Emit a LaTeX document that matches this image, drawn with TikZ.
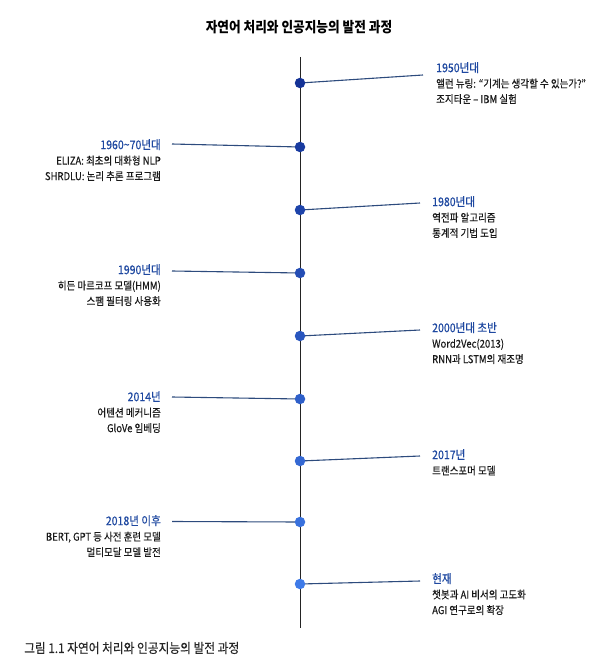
\documentclass[tikz,border=0pt]{standalone}
\usepackage{fontspec}
\setmainfont{Noto Sans CJK KR}[FakeStretch=0.88]
\newfontfamily\medfont{Noto Sans CJK KR}[FakeStretch=0.88,FakeBold=0.35]
\definecolor{yearblue}{RGB}{30,72,160}
\definecolor{connc}{RGB}{45,75,125}
\definecolor{dotA}{RGB}{20,50,150}
\definecolor{dotB}{RGB}{62,122,232}
\definecolor{axisc}{RGB}{35,35,35}
\tikzset{
  body/.style={inner sep=0pt, font=\medfont\fontsize{10.8}{15.5}\selectfont, text=black!90},
  rlabel/.style={body, anchor=north west, align=left},
  llabel/.style={body, anchor=north east, align=right},
  conn/.style={draw=connc, line width=1.1pt},
  evdot/.style={circle, inner sep=0pt, minimum size=10.5pt}
}
\newcommand{\yrtxt}[1]{{\color{yearblue}\fontsize{12}{15.5}\selectfont #1}}
\begin{document}
\begin{tikzpicture}[x=1pt,y=-1pt]
\useasboundingbox (0,0) rectangle (614,666);
\node[font=\fontsize{14.4}{16}\selectfont\bfseries] (title) at (299,27) {자연어 처리와 인공지능의 발전 과정};
\coordinate (top) at (300,57);
\coordinate (bot) at (300,628);
\draw[axisc, line width=1pt] (top) -- (bot);
% event dots (positions)
\coordinate (d1) at (300,83);
\coordinate (d2) at (300,147);
\coordinate (d3) at (300,210);
\coordinate (d4) at (300,273);
\coordinate (d5) at (300,336);
\coordinate (d6) at (300,399);
\coordinate (d7) at (300,461);
\coordinate (d8) at (300,522);
\coordinate (d9) at (300,584);
\coordinate (e1) at (423,75);
\coordinate (e2) at (172,144);
\coordinate (e3) at (420,203);
\coordinate (e4) at (172,271);
\coordinate (e5) at (420,330);
\coordinate (e6) at (172,397);
\coordinate (e7) at (420,456);
\coordinate (e8) at (172,521.5);
\coordinate (e9) at (420,581);
\foreach \i in {1,...,9} {\draw[conn] (d\i) -- (e\i);}
\foreach \i/\c in {1/0,2/12,3/25,4/37,5/50,6/62,7/75,8/87,9/100} {\node[evdot, fill=dotB!\c!dotA] (dot\i) at (d\i) {};}
% labels
\node[rlabel] (l1) at (436,62) {\yrtxt{1950년대}\\앨런 뉴링: “기계는 생각할 수 있는가?”\\조지타운 – IBM 실험};
\node[llabel] (l2) at (161,139) {\yrtxt{1960\textasciitilde70년대}\\ELIZA: 최초의 대화형 NLP\\SHRDLU: 논리 추론 프로그램};
\node[rlabel] (l3) at (432,196) {\yrtxt{1980년대}\\역전파 알고리즘\\통계적 기법 도입};
\node[llabel] (l4) at (161,264) {\yrtxt{1990년대}\\히든 마르코프 모델(HMM)\\스팸 필터링 사용화};
\node[rlabel] (l5) at (432,322) {\yrtxt{2000년대 초반}\\Word2Vec(2013)\\RNN과 LSTM의 재조명};
\node[llabel] (l6) at (161,391) {\yrtxt{2014년}\\어텐션 메커니즘\\GloVe 임베딩};
\node[rlabel] (l7) at (432,449) {\yrtxt{2017년}\\트랜스포머 모델};
\node[llabel] (l8) at (161,515) {\yrtxt{2018년 이후}\\BERT, GPT 등 사전 훈련 모델\\멀티모달 모델 발전};
\node[rlabel] (l9) at (432,573) {\yrtxt{현재}\\챗봇과 AI 비서의 고도화\\AGI 연구로의 확장};
\node[anchor=west, inner sep=0pt, font=\medfont\fontsize{13.3}{14}\selectfont, text=black!85] (cap) at (24,648) {그림 1.1 자연어 처리와 인공지능의 발전 과정};
\end{tikzpicture}
\end{document}
